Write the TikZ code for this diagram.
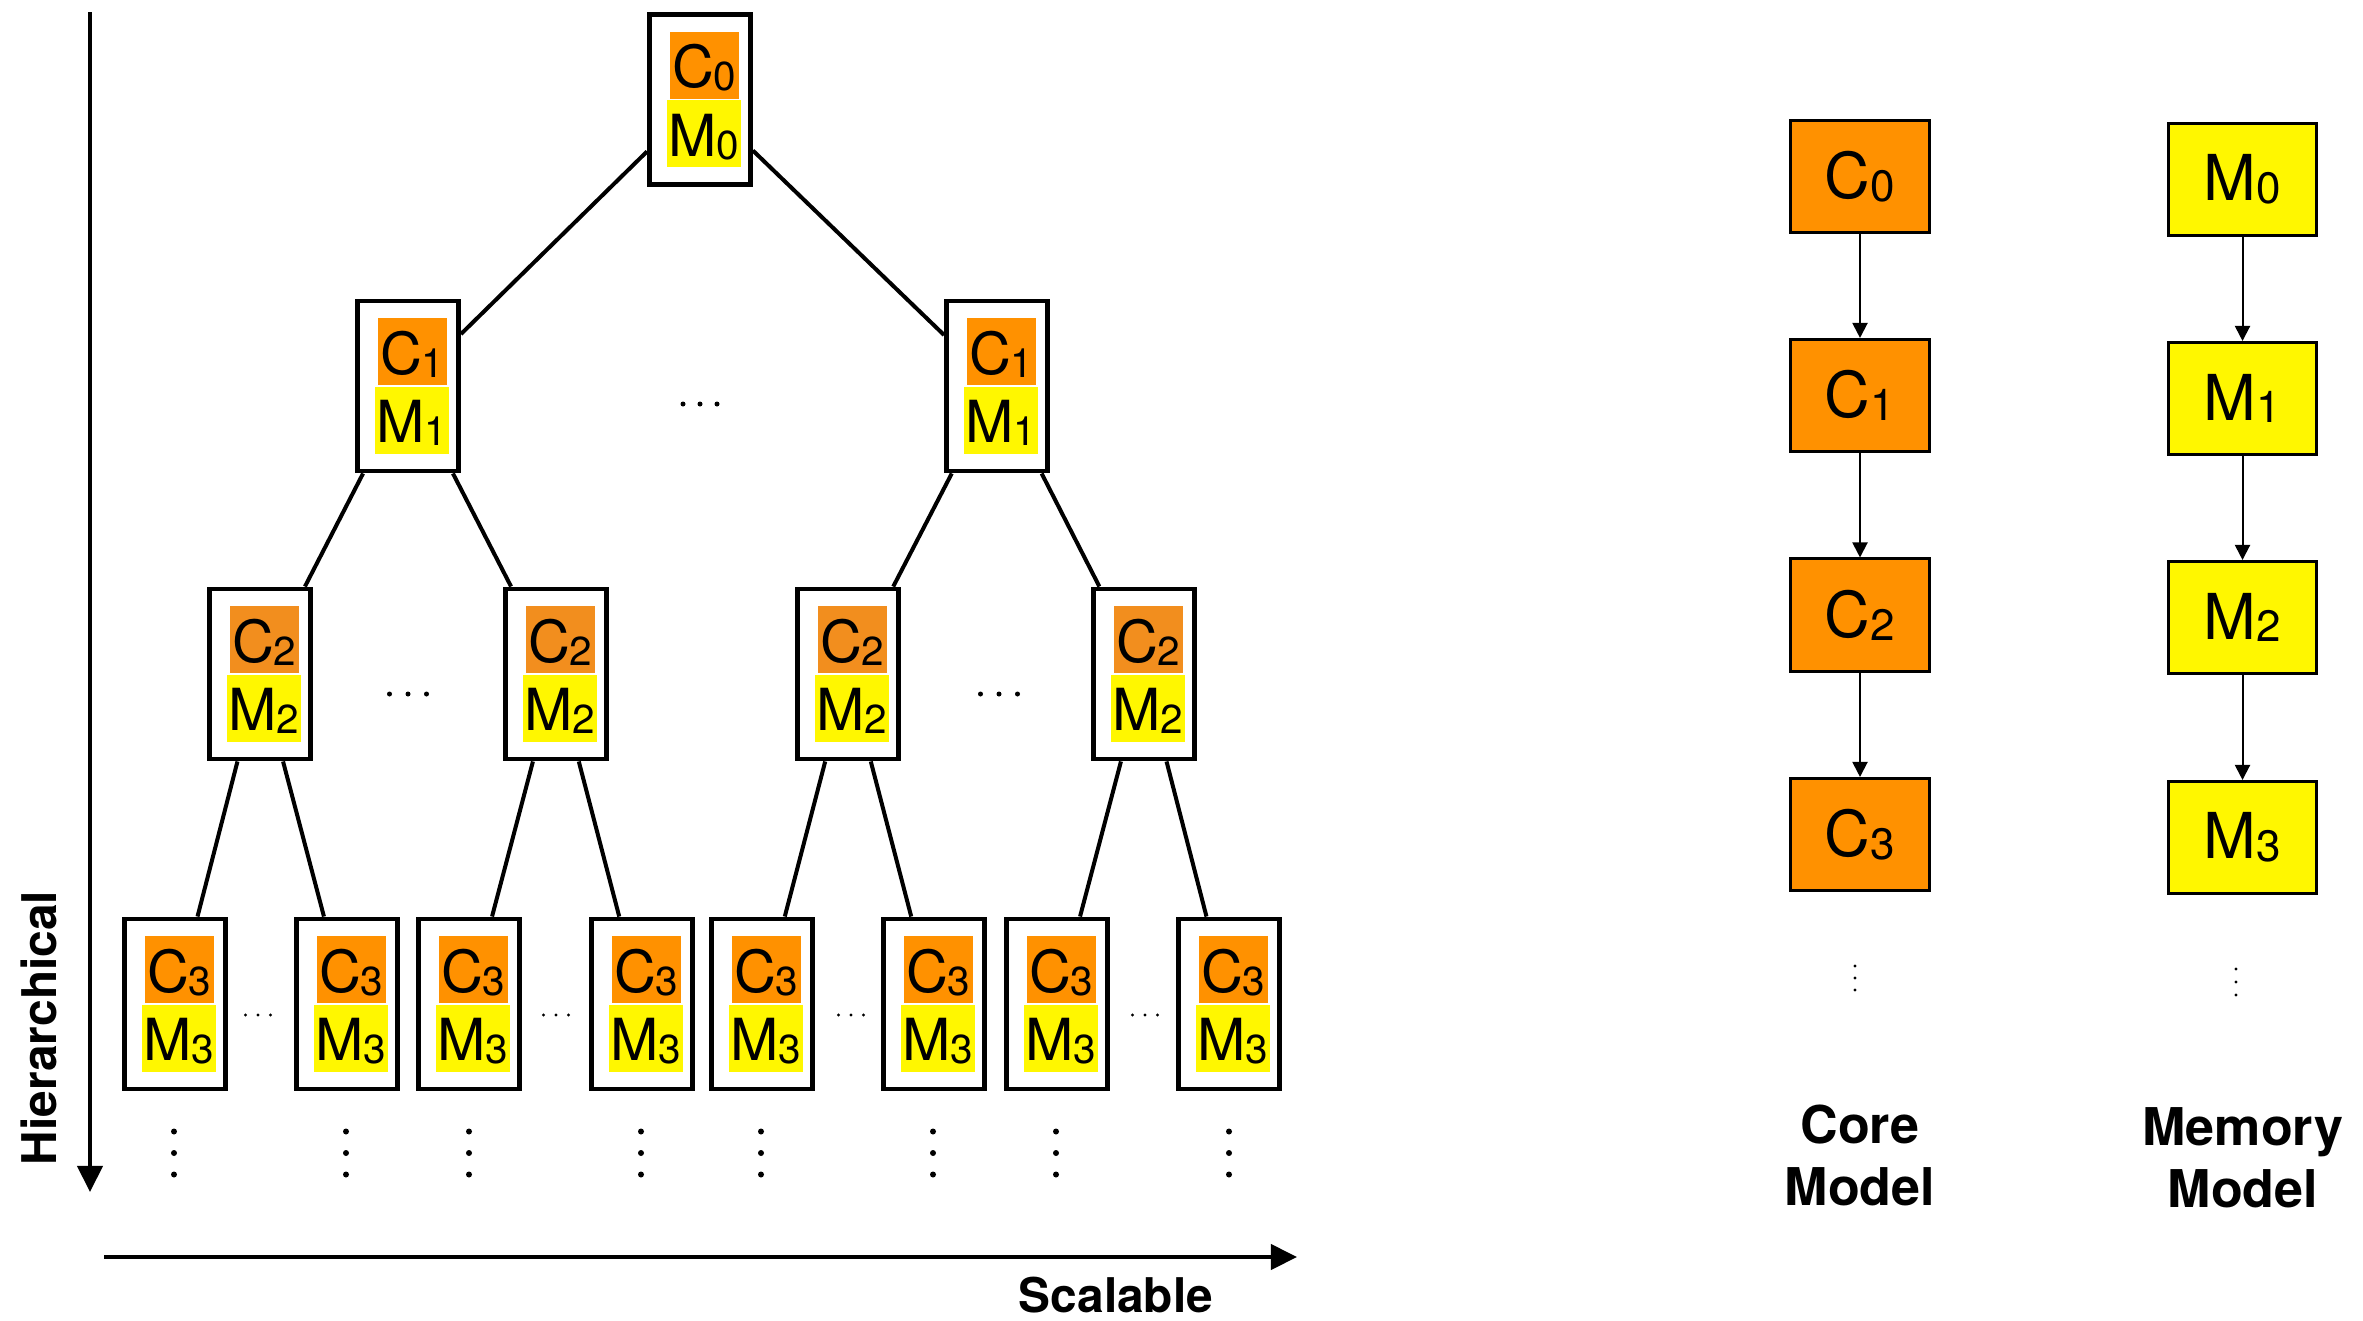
\documentclass[tikz,border=0pt]{standalone}
\usepackage{fontspec}
\setmainfont{TeX Gyre Heros}
\usetikzlibrary{arrows.meta}

\definecolor{coreorange}{RGB}{255,145,0}
\definecolor{coreorangeb}{RGB}{242,142,30}
\definecolor{memyellow}{RGB}{255,247,0}

\newcommand{\treefont}{\fontsize{16.5}{19}\selectfont}
\newcommand{\modelfont}{\fontsize{18}{21}\selectfont}
\newcommand{\axisfont}{\fontsize{13.6}{16}\selectfont\bfseries}
\newcommand{\labelfont}{\fontsize{14.8}{17.6}\selectfont\bfseries}
% level index set small, sitting almost on the baseline
\newcommand{\tidx}[1]{\raisebox{-0.8pt}{\fontsize{11.5}{13}\selectfont #1}}
\newcommand{\midx}[1]{\raisebox{-0.8pt}{\fontsize{12.5}{14}\selectfont #1}}

\tikzset{
  treebox/.style={draw, line width=0.048cm, fill=white, minimum width=1.01cm,
    minimum height=1.70cm, inner sep=0pt},
  tagfill/.style={inner xsep=0.015cm, inner ysep=0pt, text height=0.56cm,
    text depth=0.11cm, minimum width=0.69cm, font=\treefont},
  cfill/.style={tagfill, anchor=south west},
  mfill/.style={tagfill, fill=memyellow, anchor=north west},
  branch/.style={line width=0.04cm},
  modelbox/.style={draw, line width=0.03cm, minimum height=1.12cm, inner sep=0pt,
    font=\modelfont},
  corebox/.style={modelbox, fill=coreorange, minimum width=1.39cm},
  membox/.style={modelbox, fill=memyellow, minimum width=1.48cm},
  flow/.style={line width=0.02cm, -{Triangle[length=0.15cm,width=0.15cm]}},
  axis/.style={line width=0.04cm, -{Triangle[length=0.26cm,width=0.25cm]}},
  axislabel/.style={font=\axisfont, inner sep=0pt},
  modellabel/.style={font=\labelfont, align=center, inner sep=0pt, anchor=north},
}

% one tree node: framed box holding a core tag and a memory tag
% #1 name, #2 x, #3 y, #4 level, #5 core tag colour
\newcommand{\treenode}[5]{%
  \node[treebox] (#1) at (#2,#3) {};
  \node[cfill, fill=#5] (#1-c) at ([xshift=-0.31cm]#1.center) {C\tidx{#4}};
  \node[mfill] (#1-m) at ([xshift=-0.34cm]#1.center) {M\tidx{#4}};
}
% three dots in a row / in a column
\newcommand{\rowdots}[4]{\fill (#1-#3,#2) circle (#4) (#1,#2) circle (#4) (#1+#3,#2) circle (#4);}
\newcommand{\coldots}[4]{\fill (#1,#2-#3) circle (#4) (#1,#2) circle (#4) (#1,#2+#3) circle (#4);}

\begin{document}
\begin{tikzpicture}[x=0.01cm, y=-0.01cm]
\useasboundingbox (0,0) rectangle (2363,1321);

% ---------- hierarchy tree ----------
\treenode{t0}{700}{99.5}{0}{coreorange}
\treenode{t1a}{408}{386}{1}{coreorange}
\treenode{t1b}{997}{386}{1}{coreorange}
\treenode{t2a}{260}{674}{2}{coreorangeb}
\treenode{t2b}{556}{674}{2}{coreorangeb}
\treenode{t2c}{848}{674}{2}{coreorangeb}
\treenode{t2d}{1144}{674}{2}{coreorangeb}
\treenode{t3a}{175}{1004}{3}{coreorange}
\treenode{t3b}{347}{1004}{3}{coreorange}
\treenode{t3c}{469}{1004}{3}{coreorange}
\treenode{t3d}{642}{1004}{3}{coreorange}
\treenode{t3e}{762}{1004}{3}{coreorange}
\treenode{t3f}{934}{1004}{3}{coreorange}
\treenode{t3g}{1057}{1004}{3}{coreorange}
\treenode{t3h}{1229}{1004}{3}{coreorange}

\draw[branch] (t0) -- (t1a);
\draw[branch] (t0) -- (t1b);
\draw[branch] (t1a) -- (t2a);
\draw[branch] (t1a) -- (t2b);
\draw[branch] (t1b) -- (t2c);
\draw[branch] (t1b) -- (t2d);
\draw[branch] (t2a) -- (t3a);
\draw[branch] (t2a) -- (t3b);
\draw[branch] (t2b) -- (t3c);
\draw[branch] (t2b) -- (t3d);
\draw[branch] (t2c) -- (t3e);
\draw[branch] (t2c) -- (t3f);
\draw[branch] (t2d) -- (t3g);
\draw[branch] (t2d) -- (t3h);

% elided siblings
\rowdots{700}{404}{17}{0.025cm}
\rowdots{408}{694}{18.5}{0.025cm}
\rowdots{999}{694}{18.5}{0.025cm}
\rowdots{258}{1015}{12.5}{0.017cm}
\rowdots{556}{1015}{12.5}{0.017cm}
\rowdots{851}{1015}{12.5}{0.017cm}
\rowdots{1145}{1015}{12.5}{0.017cm}
% elided deeper levels
\foreach \xx in {174,346,469,641,761,933,1056,1229}{\coldots{\xx}{1153}{21.5}{0.03cm}}

% ---------- axes ----------
\coordinate (vtop) at (90,12);
\coordinate (vbot) at (90,1192);
\coordinate (hleft) at (104,1257);
\coordinate (hright) at (1297,1257);
\draw[axis] (vtop) -- (vbot);
\draw[axis] (hleft) -- (hright);
\node[axislabel, rotate=90] (hier) at (39,1028) {Hierarchical};
\node[axislabel] (scal) at (1116,1295) {Scalable};

% ---------- core model ----------
\node[corebox] (c0) at (1860,176.5) {C\midx{0}};
\node[corebox] (c1) at (1860,395.5) {C\midx{1}};
\node[corebox] (c2) at (1860,615) {C\midx{2}};
\node[corebox] (c3) at (1860,834.5) {C\midx{3}};
\draw[flow] (c0) -- (c1);
\draw[flow] (c1) -- (c2);
\draw[flow] (c2) -- (c3);
\coldots{1855}{978}{12}{0.016cm}
\node[modellabel] (corelbl) at (1860,1104) {Core\\Model};

% ---------- memory model ----------
\node[membox] (m0) at (2242.5,179.5) {M\midx{0}};
\node[membox] (m1) at (2242.5,398.5) {M\midx{1}};
\node[membox] (m2) at (2242.5,617.5) {M\midx{2}};
\node[membox] (m3) at (2242.5,837.5) {M\midx{3}};
\draw[flow] (m0) -- (m1);
\draw[flow] (m1) -- (m2);
\draw[flow] (m2) -- (m3);
\coldots{2236}{982}{13}{0.016cm}
\node[modellabel] (memlbl) at (2243,1107) {Memory\\Model};
\end{tikzpicture}
\end{document}
